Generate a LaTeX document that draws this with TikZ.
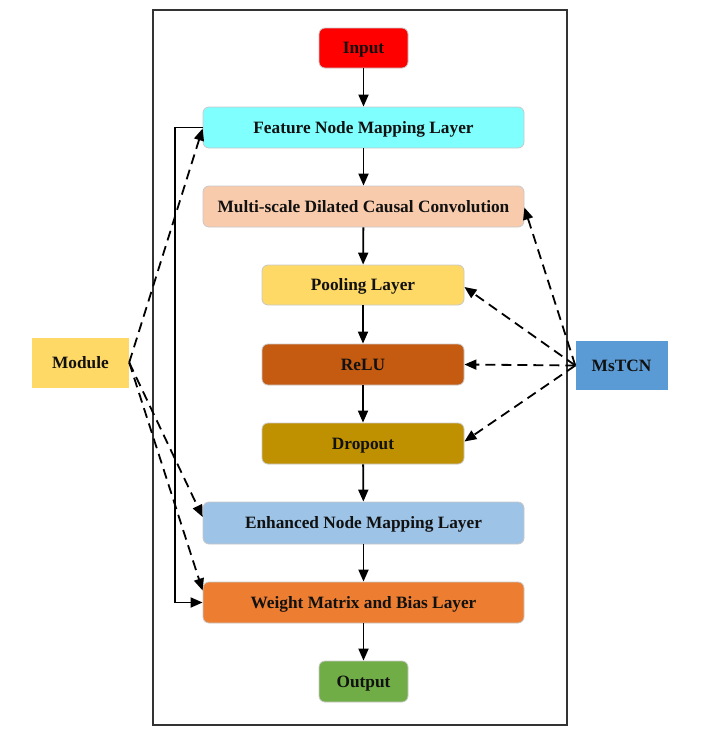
\documentclass[tikz,border=0pt]{standalone}
\usepackage{fontspec}
\setmainfont{Liberation Serif}
\usetikzlibrary{arrows.meta}
\definecolor{cInput}{HTML}{FF0000}
\definecolor{cFeat}{HTML}{80FFFF}
\definecolor{cMs}{HTML}{F8CBAD}
\definecolor{cPool}{HTML}{FFD966}
\definecolor{cRelu}{HTML}{C55A11}
\definecolor{cDrop}{HTML}{BF9000}
\definecolor{cEnh}{HTML}{9DC3E6}
\definecolor{cWt}{HTML}{ED7D31}
\definecolor{cOut}{HTML}{70AD47}
\definecolor{cMod}{HTML}{FFD966}
\definecolor{cTcn}{HTML}{5B9BD5}
\definecolor{cBorder}{HTML}{C8C8C8}
\definecolor{cFrame}{HTML}{333333}
\definecolor{cText}{HTML}{111111}
\begin{document}
\begin{tikzpicture}[x=1pt,y=-1pt,
  layer/.style={draw=cBorder,line width=0.8pt,rounded corners=6pt,inner sep=0pt,
    font=\fontsize{17.3}{20}\selectfont\bfseries,text=cText,minimum height=41pt,
    text height=11.5pt,text depth=0pt},
  side/.style={inner sep=0pt,font=\fontsize{17.3}{20}\selectfont\bfseries,text=cText,
    text height=11.5pt,text depth=0pt},
  flow/.style={line width=1.8pt,-{Triangle[length=12pt,width=10pt]}},
  dflow/.style={line width=1.8pt,dash pattern=on 10pt off 6pt,-{Triangle[length=12pt,width=10pt]}}]
\useasboundingbox (0,0) rectangle (702,739);
\draw[cFrame,line width=1.8pt] (153,10) rectangle (567,725);
\node[layer,fill=cInput,minimum width=89pt,minimum height=40pt] (inp) at (363.5,48) {Input};
\node[layer,fill=cFeat,minimum width=321pt] (feat) at (363.5,127.5) {Feature Node Mapping Layer};
\node[layer,fill=cMs,minimum width=321pt] (ms) at (363.5,206.5) {Multi-scale Dilated Causal Convolution};
\node[layer,fill=cPool,minimum width=202pt,minimum height=40pt] (pool) at (363,285) {Pooling Layer};
\node[layer,fill=cRelu,minimum width=202pt] (relu) at (363,364.5) {ReLU};
\node[layer,fill=cDrop,minimum width=202pt] (drop) at (363,443.5) {Dropout};
\node[layer,fill=cEnh,minimum width=321pt,minimum height=42pt] (enh) at (363.5,523) {Enhanced Node Mapping Layer};
\node[layer,fill=cWt,minimum width=321pt] (wt) at (363.5,602.5) {Weight Matrix and Bias Layer};
\node[layer,fill=cOut,minimum width=89pt] (out) at (363.5,681.5) {Output};
\node[side,fill=cMod,minimum width=97pt,minimum height=50pt] (mod) at (80.5,362.5) {Module};
\node[side,fill=cTcn,minimum width=92pt,minimum height=49pt] (tcn) at (621.5,365.5) {MsTCN};
% main flow
\draw[flow] (inp) -- (feat);
\draw[flow] (feat) -- (ms);
\draw[flow] (ms) -- (pool);
\draw[flow] (pool) -- (relu);
\draw[flow] (relu) -- (drop);
\draw[flow] (drop) -- (enh);
\draw[flow] (enh) -- (wt);
\draw[flow] (wt) -- (out);
% skip connection
\draw[flow] (feat.west) -- ++(-28,0) |- (wt.west);
% module links
\draw[dflow] (mod.east) -- ([yshift=-1pt]feat.west);
\draw[dflow] (mod.east) -- ([yshift=6pt]enh.west);
\draw[dflow] (mod.east) -- ([yshift=12pt]wt.west);
% MsTCN links
\draw[dflow] (tcn.west) -- ([yshift=-1pt]ms.east);
\draw[dflow] (tcn.west) -- ([yshift=-2pt]pool.east);
\draw[dflow] (tcn.west) -- (relu.east);
\draw[dflow] (tcn.west) -- ([yshift=2pt]drop.east);
\end{tikzpicture}
\end{document}
